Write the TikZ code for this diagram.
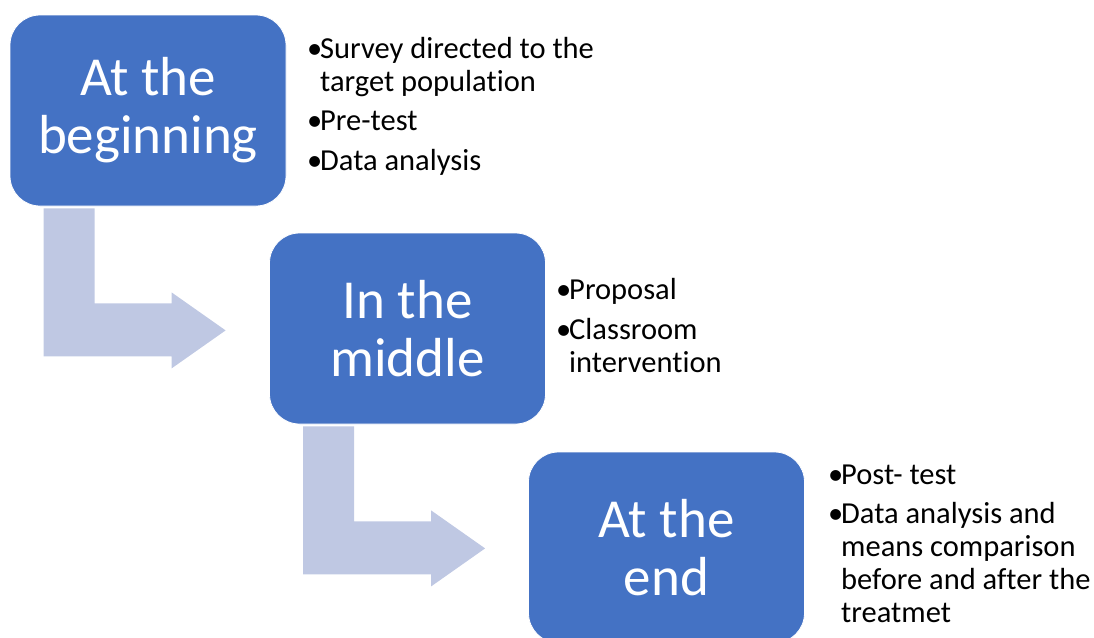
\documentclass[tikz,border=0pt]{standalone}
\usepackage{fontspec}
\setmainfont{Carlito}[Ligatures=NoCommon]
\usetikzlibrary{calc}
\definecolor{boxblue}{HTML}{4472C4}
\definecolor{arrowblue}{HTML}{BFC8E3}
\tikzset{
  stage/.style={fill=boxblue, draw=white, line width=0.8pt, rounded corners=30pt,
    minimum width=276pt, minimum height=191pt, inner sep=0pt,
    text=white, align=center, font=\fontsize{55}{58}\selectfont},
  item/.style={anchor=base west, inner sep=0pt, align=left, text=black,
    font=\fontsize{30.5}{33}\selectfont},
  flowarrow/.style={fill=arrowblue, draw=none}
}
\newcommand{\bul}{\makebox[13pt][l]{•}}
% bent block arrow, drawn in coordinates local to the south-west corner of a stage box
\newcommand{\bentarrow}[2]{%
  \begin{scope}[shift={(#1.south west)}]
    \fill[flowarrow] (34,2) -- (85,2) -- (85,97) -- (162,97) -- (162,86)
      -- (216,124) coordinate (#2) -- (162,162) -- (162,150) -- (34,150) -- cycle;
  \end{scope}}
\begin{document}
\begin{tikzpicture}[x=1pt,y=-1pt]
\useasboundingbox (0,0) rectangle (1094,637);
\clip (0,0) rectangle (1094,637);

% stage boxes
\node[stage] (b1) at (148,110.5) {At the\\beginning};
\node[stage] (b2) at (407.5,328.5) {In the\\middle};
\node[stage] (b3) at (666.5,547.5) {At the\\end};

% arrows between stages
\bentarrow{b1}{tipA}
\bentarrow{b2}{tipB}

% bullet lists (multi-line nodes sit on the baseline of their last line)
\node[item] (t11) at (307,91) {\bul Survey directed to the\\\hspace*{13pt}target population};
\node[item] (t12) at (307,130) {\bul Pre-test};
\node[item] (t13) at (307,170) {\bul Data analysis};

\node[item] (t21) at (556,299) {\bul Proposal};
\node[item] (t22) at (556,372) {\bul Classroom\\\hspace*{13pt}intervention};

\node[item] (t31) at (828,484) {\bul Post- test};
\node[item] (t32) at (828,622) {\bul Data analysis and\\\hspace*{13pt}means comparison\\\hspace*{13pt}before and after the\\\hspace*{13pt}treatmet};
\end{tikzpicture}
\end{document}
